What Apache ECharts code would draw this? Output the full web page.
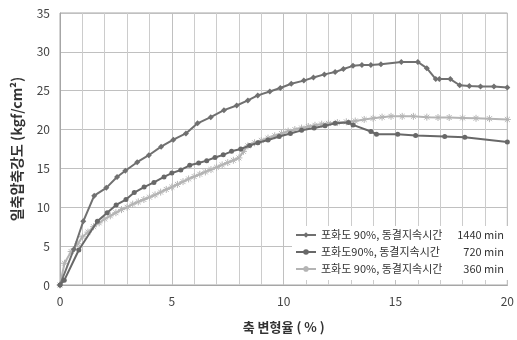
<!DOCTYPE html>
<html><head><meta charset="utf-8">
<script src="https://cdn.jsdelivr.net/npm/echarts@6/dist/echarts.min.js"></script>
<style>html,body{margin:0;padding:0;background:#fff}#c{width:517px;height:340px}</style>
</head><body><div id="c"></div>
<script>
const xTicks = [0, 5, 10, 15, 20];
const yTicks = [0, 5, 10, 15, 20, 25, 30, 35];
const seriesNames = ['포화도 90%, 동결지속시간', '포화도90%, 동결지속시간', '포화도 90%, 동결지속시간'];
const seriesTimes = ['1440 min', '720 min', '360 min'];
const s1440 = [[0,0],[0.62,4.6],[1.04,8.2],[1.53,11.5],[2.07,12.5],[2.55,13.9],[2.92,14.7],[3.45,15.8],[3.97,16.7],[4.52,17.8],[5.07,18.7],[5.63,19.5],[6.15,20.8],[6.74,21.6],[7.33,22.5],[7.9,23.1],[8.4,23.75],[8.84,24.4],[9.38,24.9],[9.85,25.35],[10.34,25.9],[10.9,26.3],[11.33,26.7],[11.82,27.1],[12.3,27.4],[12.67,27.8],[13.1,28.2],[13.5,28.3],[13.9,28.3],[14.35,28.4],[15.26,28.7],[16.0,28.7],[16.4,27.9],[16.8,26.5],[16.96,26.5],[17.45,26.5],[17.87,25.7],[18.3,25.6],[18.8,25.55],[19.4,25.55],[20,25.4]];
const s720 = [[0,0],[0.19,0.6],[0.84,4.5],[1.67,8.2],[2.11,9.3],[2.51,10.3],[2.95,11.0],[3.32,11.9],[3.76,12.6],[4.2,13.2],[4.65,13.9],[5.0,14.4],[5.4,14.8],[5.8,15.4],[6.2,15.7],[6.56,16.0],[6.93,16.4],[7.3,16.75],[7.67,17.2],[8.08,17.5],[8.48,17.95],[8.85,18.3],[9.3,18.65],[9.8,19.1],[10.3,19.5],[10.8,19.9],[11.36,20.2],[11.85,20.5],[12.3,20.8],[12.9,20.9],[13.1,20.6],[13.9,19.75],[14.15,19.4],[15.1,19.4],[15.9,19.25],[17.2,19.1],[18.1,19.0],[20,18.4]];
const s360 = [[0,0],[0.2,2.8],[0.5,4.3],[0.8,5.3],[1.0,6.2],[1.25,6.8],[1.5,7.5],[1.75,8.0],[2.0,8.5],[2.25,8.9],[2.5,9.3],[2.75,9.7],[3.0,10.0],[3.25,10.4],[3.5,10.7],[3.75,11.0],[4.0,11.3],[4.25,11.6],[4.5,11.95],[4.75,12.3],[5.0,12.6],[5.25,12.95],[5.5,13.3],[5.75,13.65],[6.0,13.95],[6.25,14.25],[6.5,14.55],[6.75,14.85],[7.0,15.15],[7.25,15.45],[7.5,15.75],[7.75,16.05],[8.0,16.35],[8.2,17.2],[8.4,17.9],[8.7,18.3],[9.0,18.6],[9.3,18.9],[9.6,19.2],[9.9,19.5],[10.2,19.8],[10.5,20.0],[10.8,20.2],[11.1,20.4],[11.4,20.55],[11.7,20.7],[12.0,20.8],[12.4,20.9],[12.8,21.0],[13.2,21.1],[13.6,21.3],[14.0,21.45],[14.4,21.6],[14.8,21.7],[15.3,21.7],[15.8,21.7],[16.4,21.6],[16.9,21.55],[17.4,21.55],[18.0,21.5],[18.6,21.45],[19.2,21.4],[20,21.3]];

const FONT = '"Noto Sans CJK KR", "Noto Sans", sans-serif';
const dark1 = '#707070', dark2 = '#686868', light = '#b4b4b4';
const asterisk = 'path://M0,5L10,5M5,0L5,10M1.5,1.5L8.5,8.5M8.5,1.5L1.5,8.5';

const chart = echarts.init(document.getElementById('c'), null, {renderer: 'canvas'});
const mk = (i) => '{a|' + seriesNames[i] + '}{b|' + seriesTimes[i] + '}';
chart.setOption({
  animation: false,
  backgroundColor: '#fff',
  grid: {left: 60, right: 6, top: 13, bottom: 55, show: true, borderColor: '#a6a6a6', borderWidth: 1},
  legend: {
    orient: 'vertical', left: 292, top: 226, itemWidth: 20, itemHeight: 7, itemGap: 3,
    backgroundColor: '#fff', padding: [2, 4, 4, 3],
    data: [{name: 's1'}, {name: 's2'}, {name: 's3'}],
    formatter: (n) => mk({s1: 0, s2: 1, s3: 2}[n]),
    textStyle: {
      fontFamily: FONT, fontSize: 11, color: '#333', lineHeight: 14,
      rich: {
        a: {fontFamily: FONT, fontSize: 11, color: '#333', width: 134, lineHeight: 14},
        b: {fontFamily: FONT, fontSize: 11, color: '#333', width: 49, align: 'right', lineHeight: 14}
      }
    }
  },
  xAxis: {
    type: 'value', min: 0, max: 20, interval: 5,
    name: '축 변형율 ( % )', nameLocation: 'middle', nameGap: 36,
    nameTextStyle: {fontFamily: FONT, fontSize: 13, fontWeight: 'bold', color: '#333'},
    axisLine: {show: true, lineStyle: {color: '#a6a6a6'}},
    axisTick: {show: false},
    axisLabel: {fontFamily: FONT, fontSize: 12, color: '#444', margin: 10, formatter: (v) => xTicks.includes(v) ? String(v) : ''},
    splitLine: {show: true, lineStyle: {color: '#c0c0c0', width: 1}},
    minorTick: {show: false, splitNumber: 5},
    minorSplitLine: {show: true, lineStyle: {color: '#cccccc', width: 1}}
  },
  yAxis: {
    type: 'value', min: 0, max: 35, interval: 5,
    name: '일축압축강도 (kgf/cm²)', nameLocation: 'middle', nameGap: 36, nameRotate: 90,
    nameTextStyle: {fontFamily: FONT, fontSize: 14, fontWeight: 'bold', color: '#333'},
    axisLine: {show: true, lineStyle: {color: '#a6a6a6'}},
    axisTick: {show: false},
    axisLabel: {fontFamily: FONT, fontSize: 12, color: '#444', margin: 10, formatter: (v) => yTicks.includes(v) ? String(v) : ''},
    splitLine: {show: true, lineStyle: {color: '#c0c0c0', width: 1}}
  },
  series: [
    {name: 's1', type: 'line', data: s1440, symbol: 'diamond', symbolSize: 6, showSymbol: true,
     lineStyle: {color: dark1, width: 2}, itemStyle: {color: dark1}, z: 3},
    {name: 's2', type: 'line', data: s720, symbol: 'circle', symbolSize: 5, showSymbol: true,
     lineStyle: {color: dark2, width: 2}, itemStyle: {color: dark2}, z: 3},
    {name: 's3', type: 'line', data: s360, symbol: asterisk, symbolSize: 7, showSymbol: true,
     lineStyle: {color: light, width: 2}, itemStyle: {color: light, borderColor: light, borderWidth: 1}, z: 2}
  ]
});
</script></body></html>
